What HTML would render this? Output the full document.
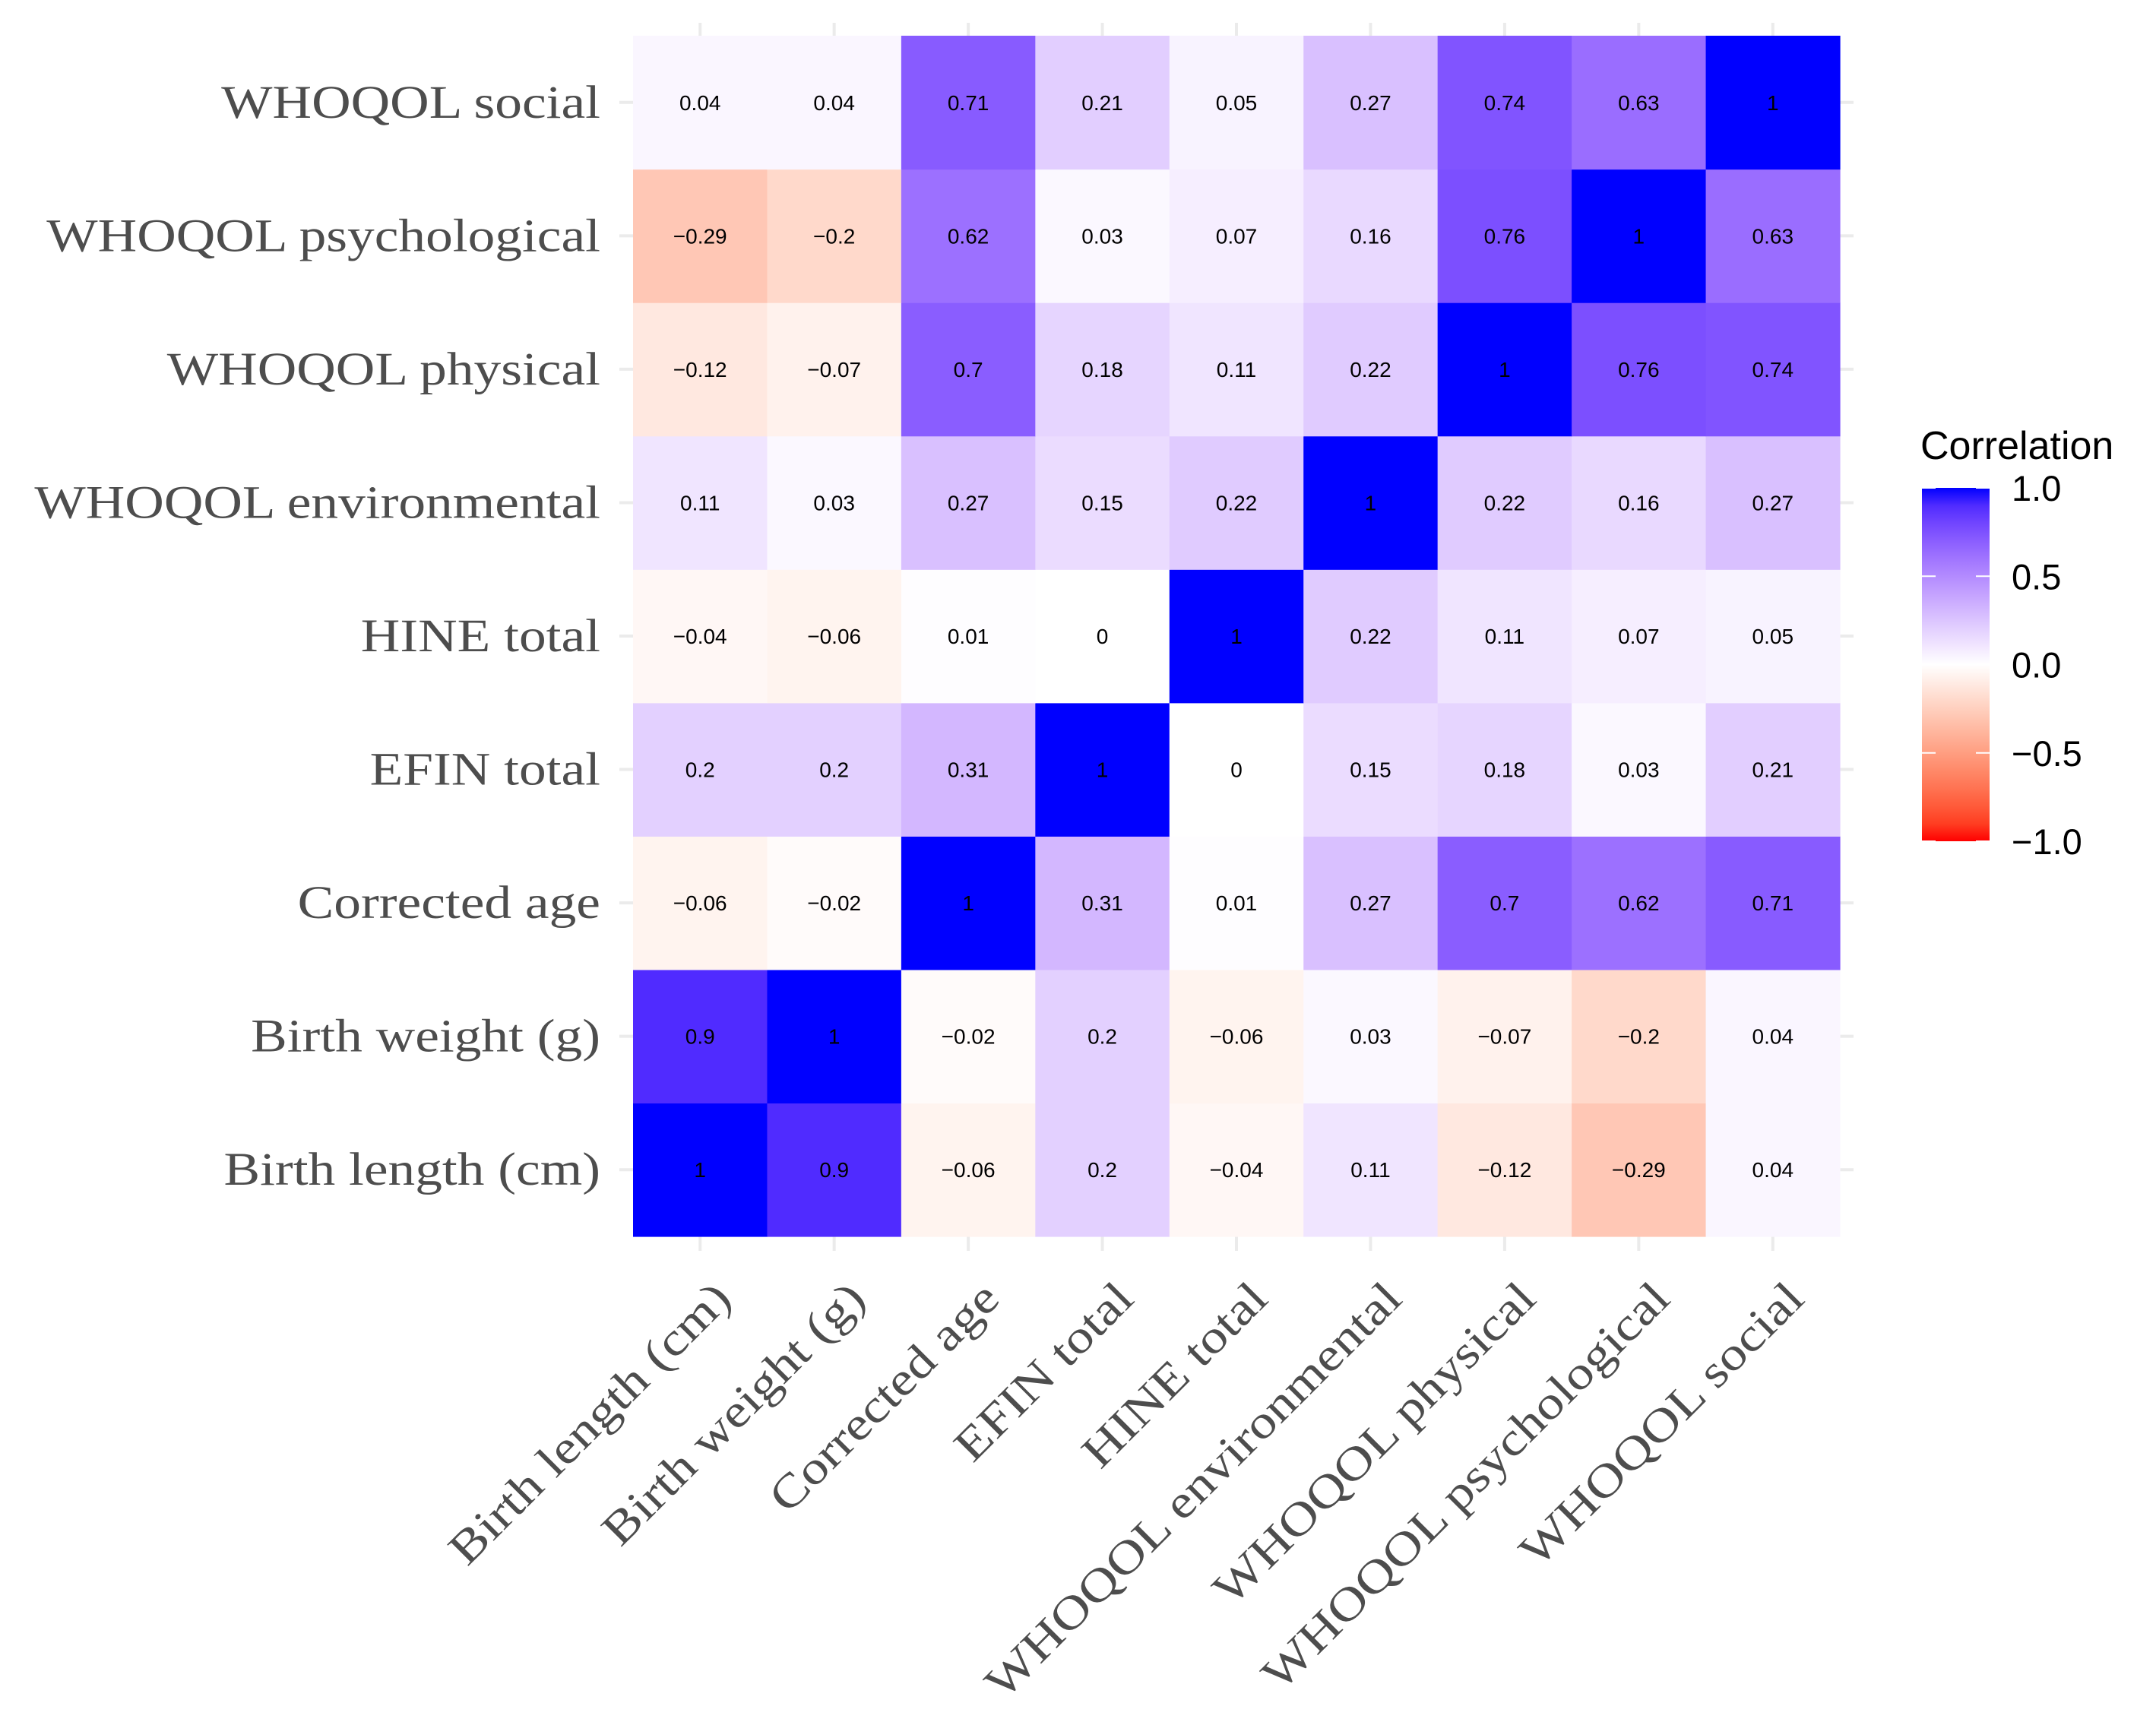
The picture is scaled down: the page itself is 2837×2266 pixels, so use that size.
<!DOCTYPE html>
<html><head><meta charset="utf-8"><style>
html,body{margin:0;padding:0;background:#fff;}
svg{display:block;}
</style></head><body>
<svg id="chart" width="2837" height="2266" viewBox="0 0 2837 2266" xmlns="http://www.w3.org/2000/svg">
<defs>
<linearGradient id="lg" x1="0" y1="1" x2="0" y2="0"></linearGradient>
</defs>
<g id="grid"></g><g id="cells"></g><g id="ylab"></g><g id="xlab"></g><g id="legend"></g>
</svg>
<script>
const variables = ["Birth length (cm)","Birth weight (g)","Corrected age","EFIN total","HINE total","WHOQOL environmental","WHOQOL physical","WHOQOL psychological","WHOQOL social"];
const corrBL   = [1, 0.9, -0.06, 0.2, -0.04, 0.11, -0.12, -0.29, 0.04];
const corrBW   = [0.9, 1, -0.02, 0.2, -0.06, 0.03, -0.07, -0.2, 0.04];
const corrCA   = [-0.06, -0.02, 1, 0.31, 0.01, 0.27, 0.7, 0.62, 0.71];
const corrEFIN = [0.2, 0.2, 0.31, 1, 0, 0.15, 0.18, 0.03, 0.21];
const corrHINE = [-0.04, -0.06, 0.01, 0, 1, 0.22, 0.11, 0.07, 0.05];
const corrENV  = [0.11, 0.03, 0.27, 0.15, 0.22, 1, 0.22, 0.16, 0.27];
const corrPHY  = [-0.12, -0.07, 0.7, 0.18, 0.11, 0.22, 1, 0.76, 0.74];
const corrPSY  = [-0.29, -0.2, 0.62, 0.03, 0.07, 0.16, 0.76, 1, 0.63];
const corrSOC  = [0.04, 0.04, 0.71, 0.21, 0.05, 0.27, 0.74, 0.63, 1];
const legendTicks = [1.0, 0.5, 0.0, -0.5, -1.0];

const matrix = [corrBL, corrBW, corrCA, corrEFIN, corrHINE, corrENV, corrPHY, corrPSY, corrSOC];
const NS = "http://www.w3.org/2000/svg";
const X0 = 833, X1 = 2421, Y0 = 47, Y1 = 1627;
const n = variables.length;
const cw = (X1 - X0) / n, ch = (Y1 - Y0) / n;
const xc = i => X0 + cw * (i + 0.5);
const yc = j => Y1 - ch * (j + 0.5);

function s2l(c){c/=255;return c<=0.04045?c/12.92:Math.pow((c+0.055)/1.055,2.4);}
function l2s(c){c=c<=0.0031308?12.92*c:1.055*Math.pow(c,1/2.4)-0.055;return Math.max(0,Math.min(255,Math.round(c*255)));}
function toLab(r,g,b){r=s2l(r);g=s2l(g);b=s2l(b);
 let x=(r*0.4124+g*0.3576+b*0.1805)/0.95047,y=r*0.2126+g*0.7152+b*0.0722,z=(r*0.0193+g*0.1192+b*0.9505)/1.08883;
 const f=t=>t>0.008856?Math.cbrt(t):7.787*t+16/116;
 x=f(x);y=f(y);z=f(z);return [116*y-16,500*(x-y),200*(y-z)];}
function fromLab(L,a,bb){let y=(L+16)/116,x=a/500+y,z=y-bb/200;
 const fi=t=>t*t*t>0.008856?t*t*t:(t-16/116)/7.787;
 x=fi(x)*0.95047;y=fi(y);z=fi(z)*1.08883;
 const r=x*3.2406+y*-1.5372+z*-0.4986,g=x*-0.9689+y*1.8758+z*0.0415,b=x*0.0557+y*-0.2040+z*1.0570;
 return `rgb(${l2s(r)},${l2s(g)},${l2s(b)})`;}
const LW=toLab(255,255,255),LB=toLab(0,0,255),LR=toLab(255,0,0);
function fill(v){const t=Math.min(1,Math.abs(v));const e=v>=0?LB:LR;
 return fromLab(LW[0]+(e[0]-LW[0])*t,LW[1]+(e[1]-LW[1])*t,LW[2]+(e[2]-LW[2])*t);}
function mk(tag,attrs,parent){const el=document.createElementNS(NS,tag);for(const k in attrs)el.setAttribute(k,attrs[k]);parent.appendChild(el);return el;}
const fmt = v => String(v).replace("-", "\u2212");
function widen(t){const w=t.getComputedTextLength();t.setAttribute("textLength",(w*1.17).toFixed(1));t.setAttribute("lengthAdjust","spacingAndGlyphs");}

const grid = document.getElementById("grid");
for (let i = 0; i < n; i++) {
  const gv = mk("line",{x1:xc(i),x2:xc(i),y1:30,y2:1646,stroke:"#ebebeb","stroke-width":4},grid);
  
  
  const gh = mk("line",{x1:815,x2:2439,y1:yc(i),y2:yc(i),stroke:"#ebebeb","stroke-width":4},grid);
  
  
}
const cells = document.getElementById("cells");
for (let j = 0; j < n; j++) {
  for (let i = 0; i < n; i++) {
    const v = matrix[j][i];
    const r = mk("rect",{x:X0+cw*i,y:Y1-ch*(j+1),width:cw+0.6,height:ch+0.6,fill:fill(v)},cells);
    
    
    const t = mk("text",{x:xc(i),y:yc(j)+10,"text-anchor":"middle","font-family":"Liberation Sans, sans-serif","font-size":28,fill:"#000"},cells);
    t.textContent = fmt(v);
    
    
  }
}
const ylab = document.getElementById("ylab"), xlab = document.getElementById("xlab");
for (let j = 0; j < n; j++) {
  const t = mk("text",{x:790,y:yc(j)+20,"text-anchor":"end","font-family":"Liberation Serif, serif","font-size":61,fill:"#4d4d4d"},ylab);
  t.textContent = variables[j];
  
  
  widen(t);
}
for (let i = 0; i < n; i++) {
  const ax = xc(i) + 14, ay = 1682;
  const t = mk("text",{x:ax,y:ay,"text-anchor":"end","dominant-baseline":"hanging","font-family":"Liberation Serif, serif","font-size":61,fill:"#4d4d4d",transform:`rotate(-45 ${ax} ${ay})`},xlab);
  t.textContent = variables[i];
  
  
  widen(t);
}
const lg = document.getElementById("lg");
for (let k = 0; k <= 20; k++) {
  const v = -1 + k * 0.1;
  mk("stop",{offset:(k/20*100)+"%","stop-color":fill(v)},lg);
}
const leg = document.getElementById("legend");
const LX0 = 2529, LX1 = 2618, LT = 642, LBt = 1107;
const ly = v => LBt - (v + 1) / 2 * (LBt - LT);
const title = mk("text",{x:2527,y:604,"font-family":"Liberation Sans, sans-serif","font-size":52,fill:"#000"},leg);
title.textContent = "Correlation";


const bar = mk("rect",{x:LX0,y:LT,width:LX1-LX0,height:LBt-LT,fill:"url(#lg)"},leg);


legendTicks.forEach(v => {
  const tk1 = mk("line",{x1:LX0,x2:LX0+18,y1:ly(v),y2:ly(v),stroke:"#fff","stroke-width":2},leg);
  
  
  const tk2 = mk("line",{x1:LX1-18,x2:LX1,y1:ly(v),y2:ly(v),stroke:"#fff","stroke-width":2},leg);
  
  
  const t = mk("text",{x:2647,y:ly(v)+17,"font-family":"Liberation Sans, sans-serif","font-size":47,fill:"#000"},leg);
  t.textContent = fmt(v.toFixed(1));
  
  
});
</script>
</body></html>
